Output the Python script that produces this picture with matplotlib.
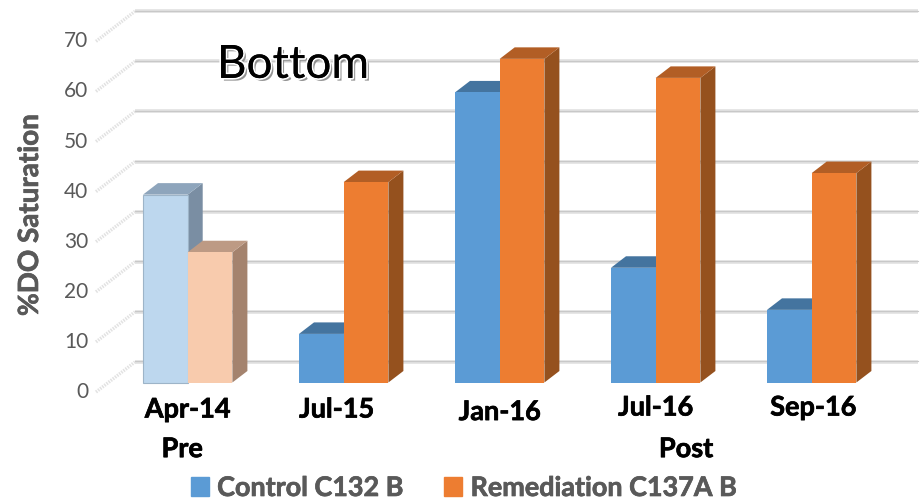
import matplotlib
matplotlib.use('Agg')
import matplotlib.pyplot as plt
import matplotlib.patheffects as pe
from matplotlib.patches import Patch

plt.rcParams['font.family'] = ['Lato', 'Open Sans', 'DejaVu Sans']

# data
dates = ['Apr-14', 'Jul-15', 'Jan-16', 'Jul-16', 'Sep-16']
control = [37.5, 9.7, 57.9, 22.9, 14.5]
remediation = [26.0, 40.0, 64.6, 60.8, 41.8]
yticks = [0, 10, 20, 30, 40, 50, 60, 70]
series_names = ['Control C132 B', 'Remediation C137A B']
periods = ['Pre', 'Post']

W, H = 924, 502
px_x = 156.0    # pixels per category
px_y = 5.01     # pixels per % unit
x0_px = 187.7
y0_px = 383.5
bar_w = 44.7 / px_x
# depth of the fake 3d look, in data units
bar_dx = 15 / px_x
bar_dy = 11.5 / px_y
wall_front = (96 - x0_px) / px_x, -1.9
wall_back = (135 - x0_px) / px_x, 4.1
grid_end = (918 - x0_px) / px_x

colors = {
    'blue': ('#5B9BD5', '#44749F', '#2F5F8A'),
    'orange': ('#ED7D31', '#B25E25', '#95511E'),
    'blue_faded': ('#BDD7EE', '#8EA5BC', '#7A8EA3'),
    'orange_faded': ('#F8CBAD', '#BD9A84', '#A4836E'),
}
# fattens the bold text a bit, Calibri bold is heavier than Lato
heavy = [pe.withStroke(linewidth=0.5, foreground='black')]
heavy_grey = [pe.withStroke(linewidth=0.5, foreground='#595959')]


def bar3d(ax, x, val, cols, edge=None):
    front, top, side = cols
    ax.fill([x + bar_w, x + bar_w + bar_dx, x + bar_w + bar_dx, x + bar_w],
            [0, bar_dy, val + bar_dy, val], color=side, lw=0, zorder=3)
    ax.fill([x, x + bar_dx, x + bar_w + bar_dx, x + bar_w],
            [val, val + bar_dy, val + bar_dy, val], color=top, lw=0, zorder=3)
    ax.bar(x, val, width=bar_w, align='edge', color=front, lw=0.8 if edge else 0,
           edgecolor=edge, zorder=3)


fig = plt.figure(figsize=(W / 100, H / 100), dpi=100)
ax = fig.add_axes([0, 0, 1, 1])
ax.set_xlim(-x0_px / px_x, (W - x0_px) / px_x)
ax.set_ylim(-(H - y0_px) / px_y, y0_px / px_y)
ax.axis('off')

# back wall grid and the dotted side wall
for t in yticks:
    yb = t + wall_back[1]
    ax.plot([wall_back[0], grid_end], [yb, yb], color='#e0e0e0', lw=2.6, zorder=1,
            solid_capstyle='butt')
    ax.plot([wall_back[0], grid_end], [yb + 0.15, yb + 0.15], color='#c8c8c8', lw=0.8, zorder=1)
    ax.plot([wall_front[0], wall_back[0]], [t + wall_front[1], yb], color='#e2e2e2', lw=2.4,
            ls=(0, (0.45, 0.35)), zorder=1)
    ax.text(wall_front[0] - 0.05, t - 1.7, str(t), ha='right', va='center', fontsize=15,
            color='#595959')

for i in range(len(dates)):
    if i == 0:
        bar3d(ax, i - bar_w, control[i], colors['blue_faded'], edge='#9db4c8')
        bar3d(ax, i, remediation[i], colors['orange_faded'])
    else:
        bar3d(ax, i - bar_w, control[i], colors['blue'])
        bar3d(ax, i, remediation[i], colors['orange'])

# category labels are not quite in line in the original
label_y = [-5.4, -5.4, -5.9, -5.0, -5.0]
label_x = [0.0, -0.045, 0.0, 0.0, 0.01]
for i, d in enumerate(dates):
    ax.text(i + label_x[i], label_y[i], d, ha='center', va='center', fontsize=19.5,
            fontweight='bold', color='black', path_effects=heavy)

ax.text(-0.035, -13.3, periods[0], ha='center', va='center', fontsize=19.5, fontweight='bold',
        path_effects=heavy)
ax.text(3.195, -13.3, periods[1], ha='center', va='center', fontsize=19.5, fontweight='bold',
        path_effects=heavy)

ax.text((30 - x0_px) / px_x, 33.4, '%DO Saturation', rotation=90, ha='center', va='center',
        fontsize=20, fontweight='bold', color='#595959', path_effects=heavy_grey)

ax.text((293 - x0_px) / px_x, 63.4, 'Bottom', ha='center', va='center', fontsize=33,
        color='black', path_effects=[
            pe.withSimplePatchShadow(offset=(2, -2), shadow_rgbFace='#888888', alpha=0.9),
            pe.withStroke(linewidth=2.5, foreground='white'),
            pe.Normal()])

handles = [Patch(color=colors['blue'][0]), Patch(color=colors['orange'][0])]
leg = ax.legend(handles, series_names, loc='lower left', bbox_to_anchor=(191 / W, 0.002), ncol=2,
                frameon=False, prop={'size': 19.4, 'weight': 'bold'}, labelcolor='#595959',
                handlelength=0.67, handleheight=0.67, handletextpad=0.3, columnspacing=1.55,
                borderpad=0, borderaxespad=0)
for txt in leg.get_texts():
    txt.set_path_effects(heavy_grey)

fig.savefig('out.png', dpi=100)
